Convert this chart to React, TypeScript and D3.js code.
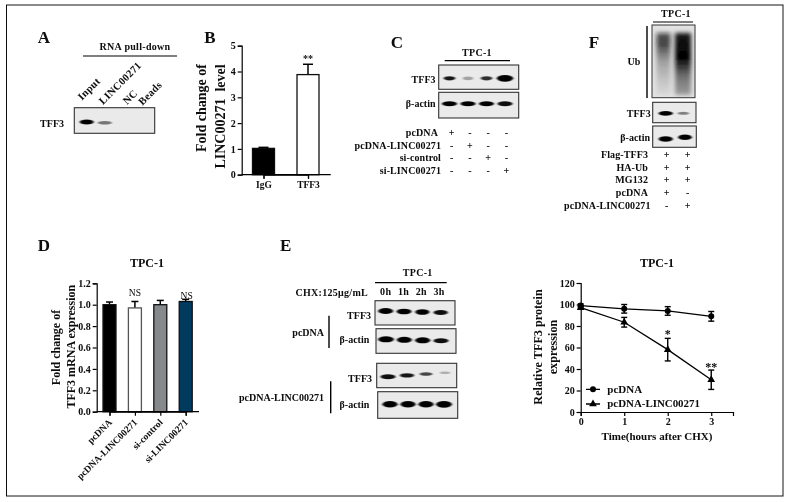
import React from "react";
import * as d3 from "d3";

const FONT = "'Liberation Serif','Times New Roman',serif";

// Panel B
const bCategories = ["IgG", "TFF3"];
const bValues = [1.02, 3.88];
const bErrors = [0.04, 0.4];
const bTicks = [0, 1, 2, 3, 4, 5];

// Panel D
const dCategories = ["pcDNA", "pcDNA-LINC00271", "si-control", "si-LINC00271"];
const dValues = [1.0, 0.97, 1.0, 1.03];
const dErrors = [0.025, 0.06, 0.04, 0.02];
const dColors = ["#000000", "#ffffff", "#85898c", "#003a5f"];
const dTicks = [0, 0.2, 0.4, 0.6, 0.8, 1.0, 1.2];

// Line panel
const hours = [0, 1, 2, 3];
const pcdnaValues = [99, 96, 94, 89];
const pcdnaErrors = [1.5, 4, 4, 4.5];
const lincValues = [97, 83.5, 58, 30];
const lincErrors = [1, 4.5, 10.5, 9];
const lineYTicks = [0, 20, 40, 60, 80, 100, 120];

// Blot band intensities: [opacity, relative width, relative thickness]
type Band = [number, number, number];
const aBands: Band[] = [[1, 1, 1], [0.5, 1, 0.7], [0, 1, 1], [0, 1, 1]];
const cTff3: Band[] = [[0.9, 0.9, 0.8], [0.3, 0.8, 0.7], [0.8, 0.9, 0.8], [1, 1.25, 1.25]];
const cActin: Band[] = [[1, 1, 0.9], [1, 1, 0.9], [1, 1, 0.9], [0.95, 1, 0.9]];
const e1: Band[] = [[1, 1, 1], [1, 1, 0.95], [1, 0.95, 0.95], [0.95, 0.95, 0.85]];
const e2: Band[] = [[1, 1.05, 1], [1, 1, 1], [1, 1, 1], [0.95, 1, 0.85]];
const e3: Band[] = [[0.95, 1, 0.85], [0.9, 0.95, 0.75], [0.7, 0.85, 0.6], [0.25, 0.7, 0.45]];
const e4: Band[] = [[1, 1, 1], [1, 1, 1], [1, 1, 1], [1, 1.05, 1.05]];
const fTff3: Band[] = [[1, 1.1, 0.9], [0.45, 0.9, 0.6]];
const fActin: Band[] = [[1, 1.1, 1], [1, 1.05, 1]];

// Treatment tables
const cRows = [
  { label: "pcDNA", signs: ["+", "-", "-", "-"] },
  { label: "pcDNA-LINC00271", signs: ["-", "+", "-", "-"] },
  { label: "si-control", signs: ["-", "-", "+", "-"] },
  { label: "si-LINC00271", signs: ["-", "-", "-", "+"] },
];
const fRows = [
  { label: "Flag-TFF3", signs: ["+", "+"] },
  { label: "HA-Ub", signs: ["+", "+"] },
  { label: "MG132", signs: ["+", "+"] },
  { label: "pcDNA", signs: ["+", "-"] },
  { label: "pcDNA-LINC00271", signs: ["-", "+"] },
];
const aLanes = ["Input", "LINC00271", "NC", "Beads"];
const eLanes = ["0h", "1h", "2h", "3h"];

type TP = React.SVGProps<SVGTextElement> & { size?: number };
function T({ size = 10, children, ...rest }: TP) {
  return (
    <text fontFamily={FONT} fontWeight="bold" fontSize={size} fill="#0a0a0a" {...rest}>
      {children}
    </text>
  );
}

function Blot({ x, y, w, h, x0, x1, cy, dy = 0, bands, bw = 7.5, bh = 2.9 }: any) {
  const sx = d3.scaleLinear().domain([0, bands.length - 1]).range([x0, x1]);
  return (
    <g>
      <rect x={x} y={y} width={w} height={h} fill="#eaeaea" stroke="#333" strokeWidth={1.1} />
      {bands.map((b: Band, i: number) =>
        b[0] > 0 ? (
          <ellipse
            key={i}
            cx={sx(i)}
            cy={cy + dy * i}
            rx={bw * b[1]}
            ry={bh * b[2]}
            fill="#000"
            opacity={b[0]}
            filter="url(#band)"
          />
        ) : null
      )}
    </g>
  );
}

function Axis({ axis, transform, size = 10 }: any) {
  return (
    <g
      transform={transform}
      ref={(el) => {
        if (!el) return;
        const s = d3.select(el);
        s.call(axis);
        s.selectAll("path,line").attr("stroke", "#000").attr("stroke-width", 1.2);
        s.selectAll("text")
          .attr("font-family", FONT)
          .attr("font-weight", "bold")
          .attr("font-size", size)
          .attr("fill", "#0a0a0a");
      }}
    />
  );
}

function ErrBar({ x, y0, y1, cap = 3, w = 1.5 }: any) {
  return (
    <g stroke="#000" strokeWidth={w}>
      <line x1={x} x2={x} y1={y0} y2={y1} />
      <line x1={x - cap} x2={x + cap} y1={y1} y2={y1} />
    </g>
  );
}

function PanelB() {
  const y = d3.scaleLinear().domain([0, 5]).range([174.7, 45.7]);
  const xc = d3.scalePoint().domain(bCategories).range([263.5, 308]);
  const axisY = d3.axisLeft(y).tickValues(bTicks).tickSize(4).tickPadding(2).tickFormat(d3.format("d") as any);
  const axisX = d3.axisBottom(xc).tickSize(4).tickPadding(3);
  return (
    <g>
      {bCategories.map((c, i) => (
        <g key={c}>
          <ErrBar x={xc(c)} y0={y(bValues[i])} y1={y(bValues[i] + bErrors[i])} cap={5} />
          <rect
            x={xc(c)! - 11}
            width={22}
            y={y(bValues[i])}
            height={y(0) - y(bValues[i])}
            fill={i ? "#fff" : "#000"}
            stroke="#111"
            strokeWidth={1.3}
          />
        </g>
      ))}
      <Axis axis={axisY} transform="translate(241.7,0)" />
      <Axis axis={axisX} transform="translate(0,174.7)" size={9.5} />
      <path d="M241.7,174.7H330.7" stroke="#000" strokeWidth={1.2} />
      <T x={308} y={62} textAnchor="middle" size={10}>**</T>
      <T transform="translate(206,108) rotate(-90)" textAnchor="middle" size={14}>Fold change of</T>
      <T transform="translate(225,116.5) rotate(-90)" textAnchor="middle" size={14} xmlSpace="preserve">{"LINC00271  level"}</T>
    </g>
  );
}

function PanelD() {
  const y = d3.scaleLinear().domain([0, 1.2]).range([411.7, 283.3]);
  const xc = d3.scalePoint().domain(dCategories).range([109.5, 185.7]);
  const axisY = d3.axisLeft(y).tickValues(dTicks).tickSize(4).tickPadding(2).tickFormat(d3.format(".1f") as any);
  const axisX = d3.axisBottom(xc).tickSize(4).tickFormat(() => "");
  return (
    <g>
      {dCategories.map((c, i) => (
        <g key={c}>
          <ErrBar x={xc(c)} y0={y(dValues[i])} y1={y(dValues[i] + dErrors[i])} cap={3.5} />
          <rect
            x={xc(c)! - 6.5}
            width={13}
            y={y(dValues[i])}
            height={y(0) - y(dValues[i])}
            fill={dColors[i]}
            stroke={i === 1 ? "#555" : "#111"}
            strokeWidth={1.3}
          />
          <T transform={`translate(${xc(c)! + 3},${423}) rotate(-45)`} textAnchor="end" size={9.5}>{c}</T>
        </g>
      ))}
      <Axis axis={axisY} transform="translate(96.7,0)" />
      <Axis axis={axisX} transform="translate(0,411.7)" />
      <path d="M96.7,411.7H199" stroke="#000" strokeWidth={1.2} />
      <T x={147} y={267} textAnchor="middle" size={12}>TPC-1</T>
      <T x={xc(dCategories[1])} y={296} textAnchor="middle" size={9.5} fontWeight="normal">NS</T>
      <T x={xc(dCategories[3])! + 1} y={299} textAnchor="middle" size={9.5} fontWeight="normal">NS</T>
      <T transform="translate(59.5,347.5) rotate(-90)" textAnchor="middle" size={12}>Fold change of</T>
      <T transform="translate(74.5,346.7) rotate(-90)" textAnchor="middle" size={12}>TFF3 mRNA expression</T>
    </g>
  );
}

function PanelLine() {
  const x = d3.scaleLinear().domain([0, 3.5]).range([580.7, 733]);
  const y = d3.scaleLinear().domain([0, 120]).range([412, 283]);
  const line = d3.line<number>().x((_, i) => x(hours[i])).y((d) => y(d));
  const tri = d3.symbol(d3.symbolTriangle, 26)();
  const axisY = d3.axisLeft(y).tickValues(lineYTicks).tickSize(4).tickPadding(2).tickFormat(d3.format("d") as any);
  const axisX = d3.axisBottom(x).tickValues(hours).tickSize(4).tickPadding(2).tickFormat(d3.format("d") as any);
  const series = [
    { v: pcdnaValues, e: pcdnaErrors },
    { v: lincValues, e: lincErrors },
  ];
  return (
    <g>
      {series.map((s, k) => (
        <g key={k}>
          <path d={line(s.v)!} fill="none" stroke="#000" strokeWidth={1.3} />
          {s.v.map((d, i) => (
            <g key={i} stroke="#000" strokeWidth={1.4}>
              <line x1={x(hours[i])} x2={x(hours[i])} y1={y(d - s.e[i])} y2={y(d + s.e[i])} />
              <line x1={x(hours[i]) - 3} x2={x(hours[i]) + 3} y1={y(d + s.e[i])} y2={y(d + s.e[i])} />
              <line x1={x(hours[i]) - 3} x2={x(hours[i]) + 3} y1={y(d - s.e[i])} y2={y(d - s.e[i])} />
              {k === 0 ? (
                <circle cx={x(hours[i])} cy={y(d)} r={3} fill="#000" stroke="none" />
              ) : (
                <path d={tri!} transform={`translate(${x(hours[i])},${y(d)})`} fill="#000" stroke="none" />
              )}
            </g>
          ))}
        </g>
      ))}
      <Axis axis={axisY} transform={`translate(${x(0)},0)`} />
      <Axis axis={axisX} transform={`translate(0,${y(0)})`} />
      <T x={x(2)} y={338} textAnchor="middle" size={12}>*</T>
      <T x={x(3)} y={371} textAnchor="middle" size={12}>**</T>
      <T x={657} y={267} textAnchor="middle" size={12}>TPC-1</T>
      <T x={657} y={440} textAnchor="middle" size={11}>Time(hours after CHX)</T>
      <T transform="translate(542,347) rotate(-90)" textAnchor="middle" size={12.2}>Relative TFF3 protein</T>
      <T transform="translate(557,347) rotate(-90)" textAnchor="middle" size={12.2}>expression</T>
      <path d="M586,389.3H600M586,404H600" stroke="#000" strokeWidth={1.3} />
      <circle cx={593} cy={389.3} r={3} fill="#000" />
      <path d={tri!} transform="translate(593,404)" fill="#000" />
      <T x={607.3} y={392.7} size={11}>pcDNA</T>
      <T x={607.3} y={407.3} size={10.9}>pcDNA-LINC00271</T>
    </g>
  );
}

function PanelA() {
  const starts = d3.scaleLinear().domain([0, 3]).range([83, 143]);
  const tweak = [-1, 0, 4, -0.5];
  const ys = [100.7, 105, 105, 105.7];
  return (
    <g>
      <T x={44} y={43} textAnchor="middle" size={17}>A</T>
      <T x={135} y={50} textAnchor="middle" size={10} letterSpacing={0.3}>RNA pull-down</T>
      <line x1={83} x2={177} y1={56} y2={56} stroke="#000" strokeWidth={1.2} />
      {aLanes.map((l, i) => (
        <T key={l} transform={`translate(${starts(i) + tweak[i]},${ys[i]}) rotate(-45)`} size={10.5} letterSpacing={0.3}>{l}</T>
      ))}
      <Blot x={74.3} y={107.7} w={80.4} h={25.6} x0={86.7} x1={141} cy={122} dy={0.8} bands={aBands} bw={7} bh={2.6} />
      <T x={64} y={127.3} textAnchor="end" size={10}>TFF3</T>
    </g>
  );
}

function PanelC() {
  const sx = d3.scaleLinear().domain([0, 3]).range([451.7, 506.3]);
  const rowY = [135.7, 148.7, 160.7, 174];
  return (
    <g>
      <T x={397} y={47.7} textAnchor="middle" size={17}>C</T>
      <T x={477} y={56} textAnchor="middle" size={10} letterSpacing={0.3}>TPC-1</T>
      <line x1={444.7} x2={510} y1={60.7} y2={60.7} stroke="#000" strokeWidth={1.3} />
      <Blot x={438.7} y={65} w={80} h={24.3} x0={449.5} x1={505} cy={78.3} bands={cTff3} bw={6.5} bh={2.7} />
      <Blot x={438.7} y={92.3} w={80} h={25.7} x0={449.5} x1={505} cy={103.7} bands={cActin} bw={7.5} bh={2.8} />
      <T x={435.5} y={82.5} textAnchor="end" size={10}>TFF3</T>
      <T x={435.5} y={107} textAnchor="end" size={10}>β-actin</T>
      {cRows.map((r, i) => (
        <g key={r.label}>
          <T x={i === 0 ? 438 : 441} y={rowY[i]} textAnchor="end" size={10} letterSpacing={0.1}>{r.label}</T>
          {r.signs.map((s, j) => (
            <T key={j} x={sx(j)} y={rowY[i]} textAnchor="middle" size={10}>{s}</T>
          ))}
        </g>
      ))}
    </g>
  );
}

function PanelE() {
  const sx = d3.scaleLinear().domain([0, 3]).range([385.7, 439]);
  return (
    <g>
      <T x={44} y={251} textAnchor="middle" size={17}>D</T>
      <T x={285.7} y={251} textAnchor="middle" size={17}>E</T>
      <T x={417.7} y={276} textAnchor="middle" size={10} letterSpacing={0.3}>TPC-1</T>
      <line x1={375} x2={446.7} y1={282.7} y2={282.7} stroke="#000" strokeWidth={1.3} />
      <T x={368} y={295.7} textAnchor="end" size={10} letterSpacing={0.3}>CHX:125μg/mL</T>
      {eLanes.map((l, i) => (
        <T key={l} x={sx(i)} y={295} textAnchor="middle" size={10} letterSpacing={0.3}>{l}</T>
      ))}
      <Blot x={375} y={300.7} w={80} h={24.3} x0={385.7} x1={440.7} cy={311} dy={0.5} bands={e1} bw={7.5} bh={3} />
      <Blot x={376} y={328.7} w={80} h={24.6} x0={386} x1={441} cy={339.3} dy={0.5} bands={e2} bw={7.5} bh={3} />
      <Blot x={376.7} y={363.3} w={80} h={24.4} x0={388} x1={445} cy={376.7} dy={-1.3} bands={e3} bw={7.5} bh={2.9} />
      <Blot x={377.7} y={391.7} w={80} h={26.6} x0={390} x1={444} cy={404.3} bands={e4} bw={7.5} bh={3.2} />
      <T x={371} y={319} textAnchor="end" size={10}>TFF3</T>
      <T x={369.3} y={343.3} textAnchor="end" size={10}>β-actin</T>
      <T x={372} y={382.3} textAnchor="end" size={10}>TFF3</T>
      <T x={369.3} y={408} textAnchor="end" size={10}>β-actin</T>
      <T x={324} y={335.7} textAnchor="end" size={10}>pcDNA</T>
      <T x={324} y={401} textAnchor="end" size={10}>pcDNA-LINC00271</T>
      <line x1={329} x2={329} y1={315.7} y2={348} stroke="#000" strokeWidth={1.4} />
      <line x1={330.7} x2={330.7} y1={381.3} y2={413.3} stroke="#000" strokeWidth={1.4} />
    </g>
  );
}

function PanelF() {
  const sx = d3.scaleLinear().domain([0, 1]).range([666.7, 687.7]);
  const rowY = [158.3, 170.7, 183.3, 196, 209];
  const lanes = d3.scaleLinear().domain([0, 1]).range([663.5, 683]);
  return (
    <g>
      <T x={594} y={47.7} textAnchor="middle" size={17}>F</T>
      <T x={676} y={17} textAnchor="middle" size={10} letterSpacing={0.3}>TPC-1</T>
      <line x1={653} x2={693} y1={22} y2={22} stroke="#000" strokeWidth={1.2} />
      <line x1={647} x2={647} y1={26} y2={98} stroke="#000" strokeWidth={1.4} />
      <T x={634} y={65} textAnchor="middle" size={10}>Ub</T>
      <rect x={652} y={25} width={43} height={72.7} fill="#e2e2e2" stroke="#333" />
      <rect x={lanes(0) - 7} y={33} width={14} height={62} fill="url(#smearA)" filter="url(#smear)" />
      <rect x={lanes(1) - 8} y={33} width={16} height={62} fill="url(#smearB)" filter="url(#smear)" />
      <Blot x={652.7} y={102.3} w={43.3} h={20.4} x0={665.7} x1={683.3} cy={113.3} bands={fTff3} bw={6.5} bh={2.6} />
      <Blot x={652.7} y={126} w={43.6} h={21.3} x0={665.7} x1={685} cy={139} dy={-1.7} bands={fActin} bw={6.5} bh={2.8} />
      <T x={650.7} y={116.7} textAnchor="end" size={10}>TFF3</T>
      <T x={650} y={140.7} textAnchor="end" size={10}>β-actin</T>
      {fRows.map((r, i) => (
        <g key={r.label}>
          <T x={i === 4 ? 650.5 : 648} y={rowY[i]} textAnchor="end" size={10} letterSpacing={0.1}>{r.label}</T>
          {r.signs.map((s, j) => (
            <T key={j} x={sx(j)} y={rowY[i]} textAnchor="middle" size={10}>{s}</T>
          ))}
        </g>
      ))}
    </g>
  );
}

export default function App() {
  return (
    <svg
      width={788}
      height={502}
      viewBox="0 0 788 502"
      style={{ position: "absolute", left: 0, top: 0, background: "#fff" }}
    >
      <defs>
        <filter id="band" x="-50%" y="-100%" width="200%" height="300%">
          <feGaussianBlur stdDeviation="1.1 0.6" />
        </filter>
        <filter id="smear" x="-30%" y="-10%" width="160%" height="120%">
          <feGaussianBlur stdDeviation="2" />
        </filter>
        <filter id="soft" x="0" y="0" width="100%" height="100%" filterUnits="userSpaceOnUse">
          <feGaussianBlur stdDeviation="0.3" />
        </filter>
        <linearGradient id="smearA" x1="0" x2="0" y1="0" y2="1">
          <stop offset="0" stopColor="#111" stopOpacity={0.7} />
          <stop offset="0.18" stopColor="#111" stopOpacity={0.75} />
          <stop offset="0.45" stopColor="#333" stopOpacity={0.4} />
          <stop offset="1" stopColor="#777" stopOpacity={0.1} />
        </linearGradient>
        <linearGradient id="smearB" x1="0" x2="0" y1="0" y2="1">
          <stop offset="0" stopColor="#000" stopOpacity={0.9} />
          <stop offset="0.4" stopColor="#000" stopOpacity={1} />
          <stop offset="0.7" stopColor="#333" stopOpacity={0.65} />
          <stop offset="1" stopColor="#555" stopOpacity={0.5} />
        </linearGradient>
      </defs>
      <g filter="url(#soft)">
        <rect x={6.5} y={5} width={776.5} height={491} fill="none" stroke="#111" strokeWidth={1} />
        <PanelA />
        <PanelB />
        <T x={210} y={43} textAnchor="middle" size={17}>B</T>
        <PanelC />
        <PanelD />
        <PanelE />
        <PanelF />
        <PanelLine />
      </g>
    </svg>
  );
}
